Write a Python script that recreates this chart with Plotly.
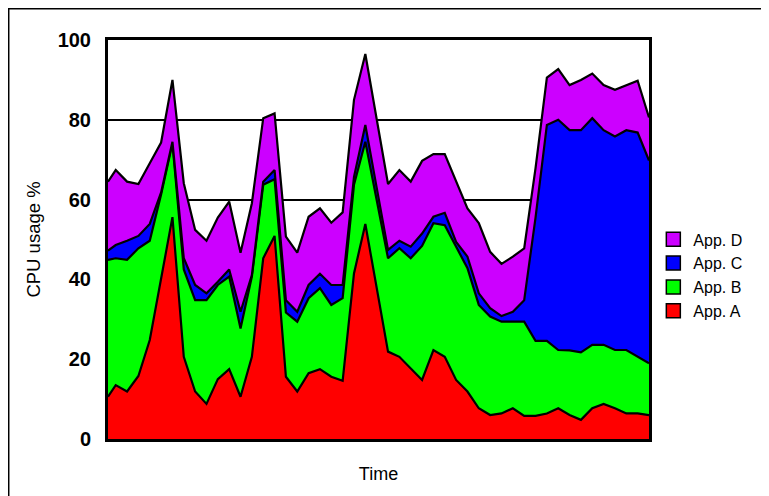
import plotly.graph_objects as go

# Time samples (first sample slightly offset)
time = [0.32] + list(range(1, 49))

# Values (individual series, stacked in the drawing)
app_a = [10.6, 13.5, 11.9, 15.8, 24.8, 39.8, 55.6, 20.6, 11.9, 8.8, 15.0, 17.5, 10.6,
         20.6, 45.3, 50.9, 15.6, 11.9, 16.5, 17.5, 15.6, 14.6, 41.5, 53.9, 37.9,
         21.9, 20.6, 17.7, 14.8, 22.3, 20.6, 14.8, 11.9, 7.7, 6.0, 6.4, 7.7,
         5.8, 5.8, 6.4, 7.7, 6.0, 4.8, 7.7, 8.8, 7.7, 6.4, 6.4, 6.0]
app_b = [34.3, 31.8, 33.0, 32.0, 24.9, 21.5, 18.5, 21.9, 22.9, 26.0, 23.6, 23.2, 17.1,
         20.1, 18.4, 14.2, 16.1, 17.5, 18.8, 20.3, 18.0, 20.7, 22.2, 20.6, 22.0,
         23.4, 27.2, 27.6, 33.6, 31.8, 33.0, 33.4, 30.9, 25.9, 24.7, 23.0, 21.7,
         23.6, 18.8, 18.2, 14.6, 16.2, 16.9, 15.9, 14.8, 14.6, 15.9, 14.2, 13.0]
app_c = [2.3, 3.3, 4.8, 3.1, 4.2, 0.5, 0.4, 2.8, 3.8, 1.7, 0.8, 1.8, 4.2,
         0.4, 0.8, 2.3, 3.1, 2.5, 3.3, 3.6, 5.0, 3.3, 2.0, 4.2, 3.1,
         2.1, 1.9, 2.9, 3.1, 1.6, 3.1, 1.2, 2.9, 2.9, 2.1, 1.4, 2.5,
         5.4, 30.9, 54.1, 57.7, 55.2, 55.7, 56.8, 53.8, 53.5, 55.1, 56.2, 50.8]
app_d = [17.3, 18.8, 14.8, 13.0, 15.2, 12.5, 15.5, 18.8, 13.8, 13.2, 16.1, 17.0, 14.8,
         18.0, 15.9, 14.2, 15.9, 14.8, 17.1, 16.4, 15.6, 18.2, 19.3, 17.8, 17.2,
         16.5, 17.7, 16.3, 18.2, 15.7, 14.7, 15.1, 12.1, 17.6, 14.1, 13.1, 13.8,
         13.0, 12.4, 11.9, 12.7, 11.3, 12.6, 11.2, 11.3, 11.7, 11.3, 13.0, 10.8]

series_names = ["App. A", "App. B", "App. C", "App. D"]
series_values = [app_a, app_b, app_c, app_d]
series_colors = ["#ff0000", "#00ff00", "#0000ff", "#cc00ff"]

y_ticks = [0, 20, 40, 60, 80, 100]

fig = go.Figure()
for name, vals, col in zip(series_names, series_values, series_colors):
    fig.add_trace(go.Scatter(
        x=time, y=vals, name=name, mode="lines",
        stackgroup="cpu", fillcolor=col,
        line=dict(color="black", width=2.2),
        showlegend=False, legendgroup=name,
    ))
# legend entries with square swatches
for name, col in zip(series_names, series_colors):
    fig.add_trace(go.Scatter(
        x=[None], y=[None], name=name, mode="markers", legendgroup=name,
        marker=dict(symbol="square", size=14, color=col,
                    line=dict(color="black", width=1.5)),
        showlegend=True,
    ))

fig.update_layout(
    width=769, height=496,
    margin=dict(l=100, r=128, t=32, b=65),
    paper_bgcolor="white", plot_bgcolor="white",
    font=dict(family="Liberation Sans, Arial, sans-serif", color="black", size=16),
    showlegend=True,
    legend=dict(
        traceorder="reversed", x=1.008, xanchor="left", y=0.41, yanchor="middle",
        font=dict(size=16), bgcolor="rgba(0,0,0,0)",
        tracegroupgap=0,
    ),
    xaxis=dict(
        range=[time[0], time[-1]], showticklabels=False, ticks="",
        showgrid=False, zeroline=False,
        showline=True, linecolor="black", linewidth=3, mirror=True,
        title=dict(text="Time", font=dict(size=18), standoff=27),
    ),
    yaxis=dict(
        range=[0, 100], tickvals=y_ticks, ticktext=[str(v) for v in y_ticks],
        tickfont=dict(size=20, family="Liberation Sans, Arial, sans-serif", weight="bold"),
        showgrid=True, gridcolor="black", gridwidth=2, zeroline=False,
        showline=True, linecolor="black", linewidth=3, mirror=True,
        ticks="", ticklabelstandoff=10,
        title=dict(text="CPU usage %", font=dict(size=18.5), standoff=13),
    ),
    shapes=[dict(
        type="rect", xref="paper", yref="paper",
        x0=-0.1835, x1=1.4, y0=-0.3, y1=1.0783,
        line=dict(color="black", width=1.5), fillcolor="rgba(0,0,0,0)", layer="below",
    )],
)

fig.write_html("out.html")
